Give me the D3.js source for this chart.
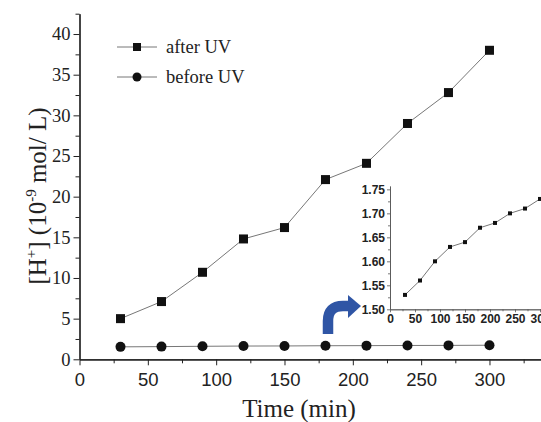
<!DOCTYPE html>
<html>
<head>
<meta charset="utf-8">
<script src="https://cdn.jsdelivr.net/npm/d3@7"></script>
<style>
  body { margin: 0; background: #fff; }
  .main text { font-family: "Liberation Serif", "Times New Roman", serif; fill: #222; }
  .main text.sansTick { font-family: "Liberation Sans", Arial, sans-serif; }
  .inset text { font-family: "Liberation Sans", Arial, sans-serif; font-weight: bold; fill: #222; }
</style>
</head>
<body>
<div id="graphicContainer"></div>
<script>
var times = [30, 60, 90, 120, 150, 180, 210, 240, 270, 300]
var afterUV = [5.0, 7.1, 10.7, 14.8, 16.2, 22.1, 24.1, 29.0, 32.8, 38.0]
var beforeUV = [1.53, 1.56, 1.60, 1.63, 1.64, 1.67, 1.68, 1.70, 1.71, 1.73]
var xTicks = [0, 50, 100, 150, 200, 250, 300]
var yTicks = [0, 5, 10, 15, 20, 25, 30, 35, 40]
var insetYTicks = [1.50, 1.55, 1.60, 1.65, 1.70, 1.75]
var legendLabels = ["after UV", "before UV"]

var width = 541, height = 422

var svg = d3.select("#graphicContainer").append("svg")
	.attr("width", width)
	.attr("height", height)

var main = svg.append("g").attr("class", "main")

var x = d3.scaleLinear().domain([0, 337.7]).range([79.5, 541])
var y = d3.scaleLinear().domain([0, 42.5]).range([359.3, 13.7])

var lineColor = "#777"
var markColor = "#111"

// axes
var xAxis = d3.axisBottom(x).tickValues(xTicks).tickSize(6).tickSizeOuter(0).tickPadding(5)
var xMinor = d3.axisBottom(x).tickValues(d3.range(25, 330, 50)).tickSize(4).tickSizeOuter(0).tickFormat("")
var yAxis = d3.axisLeft(y).tickValues(yTicks).tickSize(6).tickSizeOuter(0).tickPadding(3)
var yMinor = d3.axisLeft(y).tickValues(d3.range(2.5, 43, 5)).tickSize(4).tickSizeOuter(0).tickFormat("")

var gx = main.append("g").attr("transform", "translate(0," + y(0) + ")").call(xAxis)
main.append("g").attr("transform", "translate(0," + y(0) + ")").call(xMinor)
var gy = main.append("g").attr("transform", "translate(" + x(0) + ",0)").call(yAxis)
main.append("g").attr("transform", "translate(" + x(0) + ",0)").call(yMinor)

main.selectAll(".domain").attr("stroke", "#222").attr("stroke-width", 1.2)
main.selectAll(".tick line").attr("stroke", "#222").attr("stroke-width", 1)
gx.selectAll("text").attr("class", "sansTick").attr("font-size", 18.5).attr("dy", "0.85em")
gy.selectAll("text").attr("font-size", 18.5)

// axis titles
main.append("text")
	.attr("x", 299).attr("y", 417)
	.attr("text-anchor", "middle")
	.attr("font-size", 25)
	.text("Time (min)")

var yLabel = main.append("text")
	.attr("transform", "translate(46,196) rotate(-90)")
	.attr("text-anchor", "middle")
	.attr("font-size", 25)
yLabel.append("tspan").text("[H")
yLabel.append("tspan").attr("font-size", 15).attr("dy", -10).text("+")
yLabel.append("tspan").attr("dy", 10).text("] (10")
yLabel.append("tspan").attr("font-size", 15).attr("dy", -10).text("-9")
yLabel.append("tspan").attr("dy", 10).text(" mol/ L)")

// series
var line = d3.line().x(d => x(d[0])).y(d => y(d[1]))
var afterData = times.map((t, i) => [t, afterUV[i]])
var beforeData = times.map((t, i) => [t, beforeUV[i]])

main.append("path").datum(afterData).attr("d", line)
	.attr("fill", "none").attr("stroke", lineColor).attr("stroke-width", 1)
main.append("path").datum(beforeData).attr("d", line)
	.attr("fill", "none").attr("stroke", lineColor).attr("stroke-width", 1)

main.selectAll(".sq").data(afterData).enter().append("rect")
	.attr("x", d => x(d[0]) - 4.5).attr("y", d => y(d[1]) - 4.5)
	.attr("width", 9).attr("height", 9).attr("fill", markColor)

main.selectAll(".dot").data(beforeData).enter().append("circle")
	.attr("cx", d => x(d[0])).attr("cy", d => y(d[1]))
	.attr("r", 5).attr("fill", markColor)

// legend
var legend = main.append("g")
legendLabels.forEach(function (lab, i) {
	var ly = 47 + i * 30
	legend.append("line").attr("x1", 117).attr("x2", 157).attr("y1", ly).attr("y2", ly)
		.attr("stroke", lineColor).attr("stroke-width", 1)
	if (i === 0) {
		legend.append("rect").attr("x", 133).attr("y", ly - 4).attr("width", 8).attr("height", 8).attr("fill", markColor)
	} else {
		legend.append("circle").attr("cx", 137).attr("cy", ly).attr("r", 4.5).attr("fill", markColor)
	}
	legend.append("text").attr("x", 166).attr("y", ly).attr("dy", "0.35em")
		.attr("font-size", 18.5).text(lab)
})

// blue arrow
var arrow = svg.append("g")
arrow.append("path")
	.attr("d", "M328,334 L328,321 Q328,306 343,306 L350,306")
	.attr("fill", "none").attr("stroke", "#2f55a5").attr("stroke-width", 10.5)
arrow.append("path")
	.attr("d", "M348,295 L361,306 L348,318 Z")
	.attr("fill", "#2f55a5")

// inset
var inset = svg.append("g").attr("class", "inset")
var ix = d3.scaleLinear().domain([0, 302]).range([390, 541])
var iy = d3.scaleLinear().domain([1.50, 1.757]).range([309.3, 186])

var ixAxis = d3.axisBottom(ix).tickValues(xTicks).tickSize(3).tickSizeOuter(0).tickPadding(1)
var ixMinor = d3.axisBottom(ix).tickValues(d3.range(25, 300, 50)).tickSize(2).tickSizeOuter(0).tickFormat("")
var iyAxis = d3.axisLeft(iy).tickValues(insetYTicks).tickSize(3).tickSizeOuter(0).tickPadding(2).tickFormat(d3.format(".2f"))
var iyMinor = d3.axisLeft(iy).tickValues(d3.range(1.525, 1.75, 0.05)).tickSize(2).tickSizeOuter(0).tickFormat("")

var igx = inset.append("g").attr("transform", "translate(0," + iy(1.50) + ")").call(ixAxis)
inset.append("g").attr("transform", "translate(0," + iy(1.50) + ")").call(ixMinor)
var igy = inset.append("g").attr("transform", "translate(" + ix(0) + ",0)").call(iyAxis)
inset.append("g").attr("transform", "translate(" + ix(0) + ",0)").call(iyMinor)

inset.selectAll(".domain").attr("stroke", "#555").attr("stroke-width", 0.8)
inset.selectAll(".tick line").attr("stroke", "#555").attr("stroke-width", 0.8)
igx.selectAll("text").attr("font-size", 12).attr("dy", "0.8em")
igy.selectAll("text").attr("font-size", 12)

var iline = d3.line().x(d => ix(d[0])).y(d => iy(d[1]))
inset.append("path").datum(beforeData).attr("d", iline)
	.attr("fill", "none").attr("stroke", lineColor).attr("stroke-width", 1)
inset.selectAll(".isq").data(beforeData).enter().append("rect")
	.attr("x", d => ix(d[0]) - 2).attr("y", d => iy(d[1]) - 2)
	.attr("width", 4).attr("height", 4).attr("fill", markColor)
</script>
</body>
</html>
